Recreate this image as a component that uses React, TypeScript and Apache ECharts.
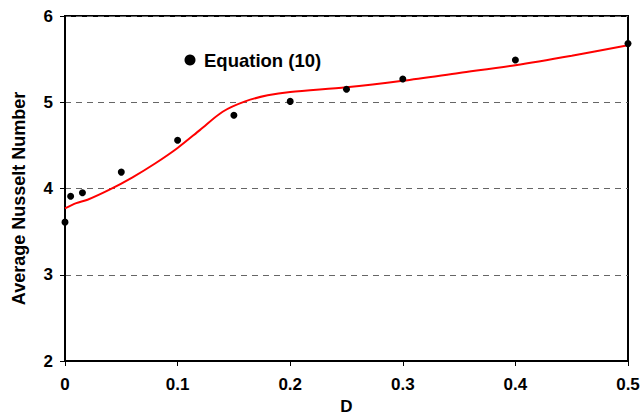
import React, { useEffect, useRef } from "react";
import * as echarts from "echarts";

// Measured data points (Equation (10))
const pointD = [0, 0.005, 0.0155, 0.05, 0.1, 0.15, 0.2, 0.25, 0.3, 0.4, 0.5];
const pointNu = [3.61, 3.91, 3.95, 4.19, 4.56, 4.85, 5.01, 5.15, 5.27, 5.49, 5.68];

// Red fitted curve
const curveD = [0, 0.01, 0.02, 0.04, 0.06, 0.08, 0.1, 0.12, 0.14, 0.16, 0.18, 0.2, 0.25, 0.3, 0.35, 0.4, 0.45, 0.5];
const curveNu = [3.77, 3.83, 3.87, 3.99, 4.13, 4.29, 4.47, 4.68, 4.89, 5.01, 5.08, 5.12, 5.175, 5.25, 5.34, 5.43, 5.54, 5.66];

const seriesName = "Equation (10)";
const xTitle = "D";
const yTitle = "Average Nusselt Number";

const FONT = "Liberation Sans, Arial, Helvetica, sans-serif";

export default function App() {
  const ref = useRef<HTMLDivElement>(null);
  useEffect(() => {
    if (!ref.current) return;
    document.body.style.margin = "0";
    const chart = echarts.init(ref.current, null, { renderer: "svg" });
    chart.setOption({
      animation: false,
      backgroundColor: "#ffffff",
      grid: {
        left: 65,
        right: 15,
        top: 16,
        bottom: 54,
        containLabel: false,
        outerBoundsMode: "none",
        show: true,
        borderColor: "#000",
        borderWidth: 2,
        backgroundColor: "transparent",
      },
      legend: {
        data: [{ name: seriesName, itemStyle: { color: "#000", opacity: 1 } }],
        left: 184.5,
        top: 50.5,
        padding: 0,
        icon: "circle",
        itemWidth: 11,
        itemHeight: 11,
        textStyle: {
          color: "#000",
          fontFamily: FONT,
          fontWeight: "bold",
          fontSize: 18.5,
          padding: [0, 0, 0, 3.5],
        },
      },
      xAxis: {
        type: "value",
        min: 0,
        max: 0.5,
        interval: 0.1,
        name: xTitle,
        nameLocation: "middle",
        nameGap: 36,
        nameTextStyle: { color: "#000", fontFamily: FONT, fontWeight: "bold", fontSize: 17 },
        axisLine: { show: true, lineStyle: { color: "#000", width: 2 } },
        axisTick: { show: true, length: 5, lineStyle: { color: "#000", width: 1 } },
        axisLabel: { color: "#000", fontFamily: FONT, fontWeight: "bold", fontSize: 17, margin: 15 },
        splitLine: { show: false },
      },
      yAxis: {
        type: "value",
        min: 2,
        max: 6,
        interval: 1,
        name: yTitle,
        nameLocation: "middle",
        nameGap: 37,
        nameTextStyle: {
          color: "#000",
          fontFamily: FONT,
          fontWeight: "bold",
          fontSize: 18,
          padding: [0, 20, 0, 0],
        },
        axisLine: { show: true, lineStyle: { color: "#000", width: 2 } },
        axisTick: { show: true, length: 5, lineStyle: { color: "#000", width: 1 } },
        axisLabel: { color: "#000", fontFamily: FONT, fontWeight: "bold", fontSize: 17, margin: 12 },
        splitLine: { show: true, lineStyle: { color: "#666", width: 1, type: [6, 5] } },
      },
      series: [
        {
          name: "curve",
          type: "line",
          data: curveD.map((d, i) => [d, curveNu[i]]),
          smooth: 0.3,
          showSymbol: false,
          symbol: "none",
          lineStyle: { color: "#ff0000", width: 2 },
          z: 2,
        },
        {
          name: seriesName,
          type: "scatter",
          data: pointD.map((d, i) => [d, pointNu[i]]),
          symbolSize: 7,
          itemStyle: { color: "#000", opacity: 1 },
          z: 3,
        },
      ],
    });
    return () => chart.dispose();
  }, []);
  return <div ref={ref} style={{ width: 643, height: 415 }} />;
}
